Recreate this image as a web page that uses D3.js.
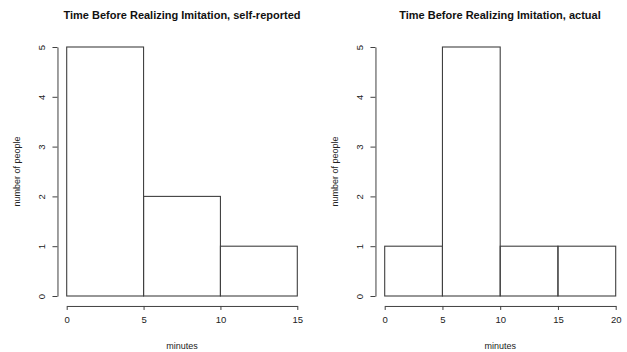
<!DOCTYPE html>
<html><head><meta charset="utf-8">
<script src="https://cdn.jsdelivr.net/npm/d3@7"></script>
<style>body{margin:0;background:#fff}svg{display:block}</style>
</head><body>
<svg id="c" width="627" height="352"></svg>
<script>
const leftTitle = "Time Before Realizing Imitation, self-reported";
const rightTitle = "Time Before Realizing Imitation, actual";
const leftBreaks = [0, 5, 10, 15];
const leftCounts = [5, 2, 1];
const rightBreaks = [0, 5, 10, 15, 20];
const rightCounts = [1, 5, 1, 1];
const yTicks = [0, 1, 2, 3, 4, 5];
const xLabel = "minutes";
const yLabel = "number of people";

const svg = d3.select("#c");
const lineCol = "#404040";
const font = "Liberation Sans, Arial, sans-serif";

function panel(opts) {
  const {breaks, counts, title, xr, titleX, yLabX} = opts;
  const x = d3.scaleLinear().domain([breaks[0], breaks[breaks.length-1]]).range(xr);
  const y = d3.scaleLinear().domain([0, 5]).range([296, 47]);
  const span = breaks[breaks.length-1] - breaks[0];
  const g = svg.append("g");
  const bins = counts.map((c, i) => ({x0: breaks[i], x1: breaks[i+1], c}));
  g.selectAll("rect").data(bins).join("rect")
    .attr("x", d => x(d.x0)).attr("y", d => y(d.c))
    .attr("width", d => x(d.x1) - x(d.x0)).attr("height", d => y(0) - y(d.c))
    .attr("fill", "none").attr("stroke", lineCol).attr("stroke-width", 1.1);
  const axY = y(-0.2);
  const xa = g.append("g").attr("transform", `translate(0,${axY})`)
    .call(d3.axisBottom(x).tickValues(breaks).tickSizeInner(4).tickSizeOuter(0).tickPadding(6).tickFormat(d3.format("d")));
  const axX = x(breaks[0] - 0.04 * span);
  const ya = g.append("g").attr("transform", `translate(${axX},0)`)
    .call(d3.axisLeft(y).tickValues(yTicks).tickSizeInner(5).tickSizeOuter(0).tickFormat(d3.format("d")));
  [xa, ya].forEach(a => {
    a.select(".domain").attr("stroke", lineCol);
    a.selectAll("line").attr("stroke", lineCol);
    a.selectAll("text").attr("font-family", font).attr("font-size", 9.5).attr("fill", "#222");
  });
  ya.selectAll(".tick text")
    .attr("x", 0).attr("dy", null)
    .attr("text-anchor", "middle").attr("dominant-baseline", "middle")
    .attr("transform", "translate(-15,0) rotate(-90)");
  g.append("text").text(title).attr("x", titleX).attr("y", 19)
    .attr("text-anchor", "middle").attr("font-weight", "bold")
    .attr("font-family", font).attr("font-size", 11).attr("fill", "#111");
  g.append("text").text(xLabel).attr("x", (xr[0] + xr[1]) / 2).attr("y", 349)
    .attr("text-anchor", "middle")
    .attr("font-family", font).attr("font-size", 9).attr("fill", "#222");
  g.append("text").text(yLabel)
    .attr("transform", `translate(${yLabX},${y(2.5)}) rotate(-90)`)
    .attr("text-anchor", "middle").attr("dominant-baseline", "middle")
    .attr("font-family", font).attr("font-size", 9).attr("fill", "#222");
}

panel({breaks: leftBreaks, counts: leftCounts, title: leftTitle, xr: [66.7, 297.3], titleX: 182, yLabX: 18});
panel({breaks: rightBreaks, counts: rightCounts, title: rightTitle, xr: [384.7, 615.7], titleX: 500, yLabX: 336});
</script>
</body></html>
